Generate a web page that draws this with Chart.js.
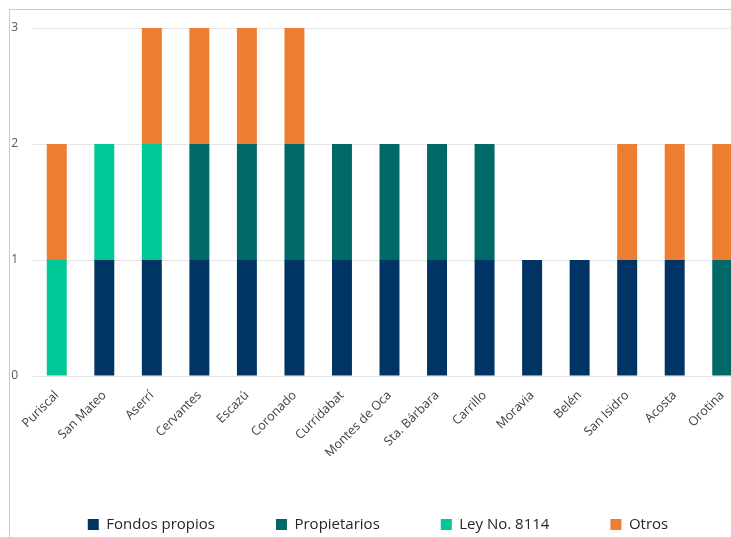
<!DOCTYPE html>
<html>
<head>
<meta charset="utf-8">
<script src="https://cdn.jsdelivr.net/npm/chart.js@4/dist/chart.umd.min.js"></script>
<style>
  html, body { margin: 0; padding: 0; background: #fff; overflow: hidden; }
  body { width: 731px; height: 537px; position: relative; }
  #box { position: absolute; left: 9px; top: 9px; width: 742px; height: 540px; border: 1px solid #c9c9c9; }
  canvas { display: block; }
</style>
</head>
<body>
<div id="box"><canvas id="chart" width="742" height="540"></canvas></div>
<script>
// ── Data ─────────────────────────────────────────────────────────────
const cantones = ['Puriscal', 'San Mateo', 'Aserrí', 'Cervantes', 'Escazú', 'Coronado', 'Curridabat',
  'Montes de Oca', 'Sta. Bárbara', 'Carrillo', 'Moravia', 'Belén', 'San Isidro', 'Acosta', 'Orotina'];
const fondosPropios = [0, 1, 1, 1, 1, 1, 1, 1, 1, 1, 1, 1, 1, 1, 0];
const propietarios  = [0, 0, 0, 1, 1, 1, 1, 1, 1, 1, 0, 0, 0, 0, 1];
const leyNo8114     = [1, 1, 1, 0, 0, 0, 0, 0, 0, 0, 0, 0, 0, 0, 0];
const otros         = [1, 0, 1, 1, 1, 1, 0, 0, 0, 0, 0, 0, 1, 1, 1];
const yTicks = [0, 1, 2, 3];

Chart.defaults.font.family = '"Open Sans", "Noto Sans", sans-serif';

const bar = (label, data, color) => ({
  label, data, backgroundColor: color, borderWidth: 0,
  barPercentage: 0.42, categoryPercentage: 1,
});

new Chart(document.getElementById('chart').getContext('2d'), {
  type: 'bar',
  data: {
    labels: cantones,
    datasets: [
      bar('Fondos propios', fondosPropios, '#003464'),
      bar('Propietarios', propietarios, '#006866'),
      bar('Ley No. 8114', leyNo8114, '#00c896'),
      bar('Otros', otros, '#ed7d31'),
    ],
  },
  options: {
    responsive: false,
    animation: false,
    devicePixelRatio: 1,
    layout: { padding: { left: 0, right: 6, top: 18, bottom: 8 } },
    plugins: {
      tooltip: { enabled: false },
      legend: {
        position: 'bottom',
        labels: {
          boxWidth: 11, boxHeight: 11, padding: 61,
          color: '#262626', font: { size: 15 },
        },
      },
    },
    scales: {
      x: {
        stacked: true,
        grid: { display: false },
        border: { display: false },
        ticks: { color: '#404040', font: { size: 12.5 }, minRotation: 45, maxRotation: 45, padding: 4 },
        afterFit: s => { s.height = 80; },
      },
      y: {
        stacked: true,
        min: 0, max: 3,
        afterBuildTicks: s => { s.ticks = yTicks.map(v => ({ value: v })); },
        grid: { color: '#e6e6e6', drawTicks: false },
        border: { display: false },
        ticks: { color: '#595959', font: { size: 12 }, padding: 15 },
        // tick padding would otherwise push the plot top down
        afterFit: s => { s.width = 23; s.paddingTop = 0; s.paddingBottom = 0; },
      },
    },
  },
});
</script>
</body>
</html>
